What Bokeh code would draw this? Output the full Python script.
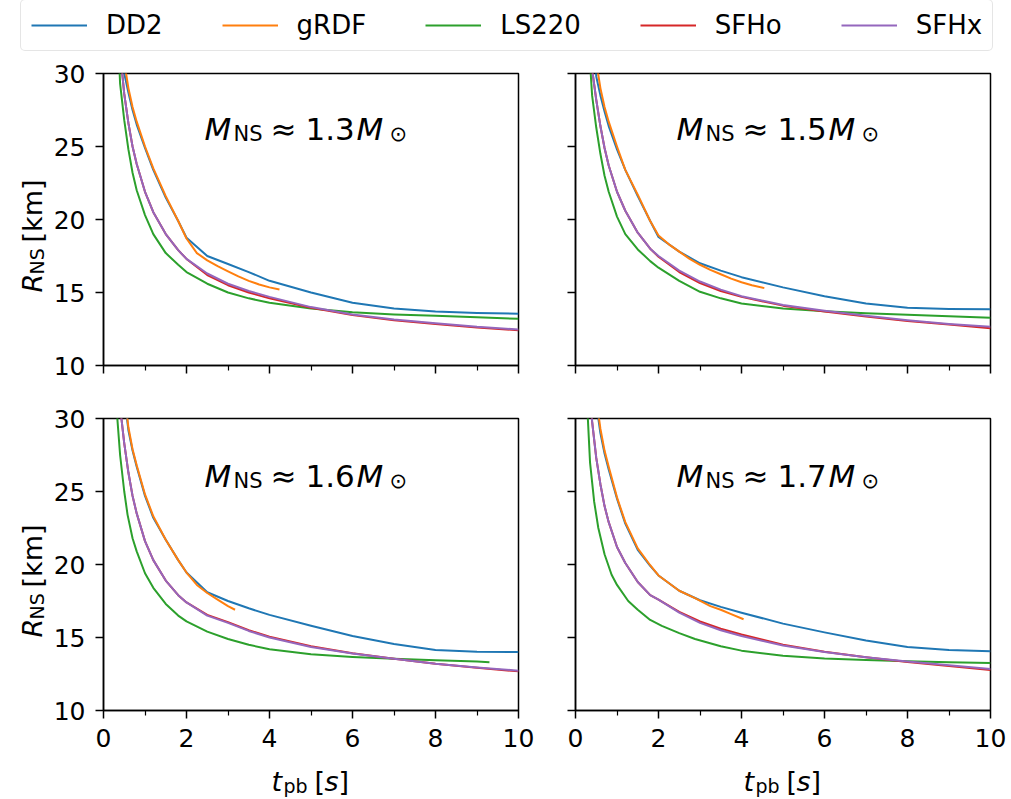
import math
from bokeh.plotting import figure
from bokeh.models import (FixedTicker, Label, Legend, LegendItem, Range1d,
                          CustomJSTickFormatter)
from bokeh.core.properties import value
from bokeh.layouts import column, row
from bokeh.embed import file_html
from bokeh.resources import INLINE

# ---------------- data ----------------
MODELS = ["DD2", "gRDF", "LS220", "SFHo", "SFHx"]
COLORS = ["#1f77b4", "#ff7f0e", "#2ca02c", "#d62728", "#9467bd"]
MASS_LABELS = ["1.3", "1.5", "1.6", "1.7"]

X_TICKS = [0, 2, 4, 6, 8, 10]
X_MINOR = [1, 3, 5, 7, 9]
Y_TICKS = [10, 15, 20, 25, 30]

T = [0.3, 0.4, 0.5, 0.6, 0.7, 0.8, 1.0, 1.2, 1.5, 1.8, 2.0, 2.5, 3.0, 3.5,
     4.0, 5.0, 6.0, 7.0, 8.0, 9.0, 10.0]

# M_NS ~ 1.3
DD2_13 = [40, 34, 30.0, 28.7, 27.5, 26.5, 24.9, 23.4, 21.5, 19.9, 18.75, 17.5,
          16.95, 16.4, 15.8, 15.0, 14.3, 13.9, 13.7, 13.6, 13.55]
T_GRDF_13 = [0.3, 0.4, 0.5, 0.6, 0.7, 0.8, 1.0, 1.2, 1.5, 1.8, 2.0, 2.25, 2.5,
             2.75, 3.0, 3.25, 3.5, 3.75, 4.0, 4.24]
GRDF_13 = [42, 36, 30.8, 29.0, 27.7, 26.7, 25.0, 23.5, 21.6, 19.9, 18.7, 17.7,
           17.2, 16.8, 16.45, 16.1, 15.8, 15.55, 15.35, 15.2]
LS220_13 = [36, 29.3, 26.8, 24.8, 23.2, 22.0, 20.3, 19.0, 17.7, 16.9, 16.4,
            15.6, 15.0, 14.6, 14.3, 13.9, 13.65, 13.5, 13.4, 13.3, 13.2]
SFHO_13 = [38, 31.5, 28.6, 26.6, 25.0, 23.8, 21.9, 20.5, 19.0, 17.9, 17.3,
           16.2, 15.5, 15.0, 14.6, 13.95, 13.45, 13.1, 12.85, 12.6, 12.42]
SFHX_13 = [38, 31.5, 28.6, 26.6, 25.0, 23.8, 21.9, 20.5, 19.0, 17.9, 17.3,
           16.3, 15.6, 15.1, 14.7, 14.0, 13.5, 13.15, 12.9, 12.65, 12.47]

# M_NS ~ 1.5
DD2_15 = [40, 34, 29.8, 28.5, 27.4, 26.4, 24.8, 23.4, 21.6, 19.9, 18.8, 17.8,
          17.0, 16.5, 16.05, 15.35, 14.75, 14.25, 13.95, 13.87, 13.85]
T_GRDF_15 = [0.3, 0.4, 0.5, 0.6, 0.7, 0.8, 1.0, 1.2, 1.5, 1.8, 2.0, 2.25, 2.5,
             2.75, 3.0, 3.25, 3.5, 3.75, 4.0, 4.25, 4.55]
GRDF_15 = [42, 36, 30.8, 29.0, 27.7, 26.7, 25.0, 23.4, 21.7, 19.9, 18.9, 18.3,
           17.8, 17.3, 16.9, 16.55, 16.25, 15.95, 15.7, 15.5, 15.3]
LS220_15 = [33, 28.5, 26.3, 24.5, 23.0, 21.9, 20.2, 19.0, 17.95, 17.15, 16.7,
            15.8, 15.05, 14.6, 14.25, 13.9, 13.72, 13.58, 13.48, 13.38, 13.27]
SFHO_15 = [36, 30.3, 28.2, 26.4, 24.9, 23.7, 21.9, 20.6, 19.1, 18.0, 17.45,
           16.4, 15.65, 15.1, 14.7, 14.1, 13.7, 13.35, 13.05, 12.8, 12.55]
SFHX_15 = [36, 30.3, 28.2, 26.4, 24.9, 23.7, 21.9, 20.6, 19.1, 18.0, 17.5,
           16.5, 15.75, 15.2, 14.75, 14.15, 13.75, 13.4, 13.1, 12.85, 12.65]

# M_NS ~ 1.6
DD2_16 = [42, 36, 31.5, 29.2, 27.8, 26.7, 24.7, 23.2, 21.7, 20.3, 19.45, 18.1,
          17.5, 17.0, 16.55, 15.8, 15.1, 14.55, 14.15, 14.02, 14.0]
T_GRDF_16 = [0.3, 0.4, 0.5, 0.6, 0.7, 0.8, 1.0, 1.2, 1.5, 1.8, 2.0, 2.25, 2.5,
             2.75, 3.0, 3.17]
GRDF_16 = [43, 36.5, 31.8, 29.4, 27.9, 26.8, 24.8, 23.3, 21.7, 20.3, 19.45,
           18.6, 18.05, 17.6, 17.15, 16.9]
T_LS220_16 = [0.28, 0.4, 0.5, 0.58, 0.7, 0.8, 1.0, 1.2, 1.5, 1.8, 2.0, 2.5,
              3.0, 3.5, 4.0, 5.0, 6.0, 7.0, 8.0, 9.0, 9.3]
LS220_16 = [32, 27.5, 25.0, 23.4, 21.8, 20.9, 19.4, 18.4, 17.3, 16.5, 16.1,
            15.4, 14.9, 14.5, 14.2, 13.85, 13.67, 13.55, 13.45, 13.35, 13.3]
SFHO_16 = [36, 30.8, 28.3, 26.3, 24.7, 23.5, 21.6, 20.3, 18.9, 17.9, 17.4,
           16.55, 16.05, 15.5, 15.05, 14.4, 13.92, 13.55, 13.2, 12.92, 12.68]
SFHX_16 = [36, 30.8, 28.3, 26.3, 24.7, 23.5, 21.6, 20.3, 18.9, 17.9, 17.4,
           16.5, 16.0, 15.45, 15.0, 14.35, 13.9, 13.55, 13.2, 12.95, 12.73]

# M_NS ~ 1.7
DD2_17 = [42, 35, 31.0, 29.0, 27.6, 26.5, 24.5, 22.8, 21.0, 19.9, 19.25, 18.2,
          17.55, 17.1, 16.7, 15.95, 15.35, 14.8, 14.35, 14.15, 14.05]
T_GRDF_17 = [0.3, 0.4, 0.5, 0.6, 0.7, 0.8, 1.0, 1.2, 1.5, 1.8, 2.0, 2.5, 2.88,
             3.25, 3.5, 3.75, 4.05]
GRDF_17 = [43, 36, 31.4, 29.3, 27.8, 26.7, 24.6, 22.9, 21.1, 19.95, 19.25, 18.2,
           17.7, 17.15, 16.9, 16.6, 16.25]
T_LS220_17 = [0.28, 0.35, 0.45, 0.55, 0.7, 0.87, 1.0, 1.27, 1.5, 1.8, 2.08,
              2.5, 2.88, 3.5, 4.0, 5.0, 6.0, 7.0, 8.0, 9.0, 10.0]
LS220_17 = [31, 27.0, 24.3, 22.5, 20.7, 19.3, 18.6, 17.5, 16.9, 16.2, 15.8,
            15.3, 14.9, 14.4, 14.1, 13.75, 13.57, 13.46, 13.38, 13.3, 13.25]
SFHO_17 = [35, 29.8, 27.3, 25.5, 24.0, 22.9, 21.2, 20.1, 18.8, 17.9, 17.6,
           16.75, 16.1, 15.6, 15.2, 14.5, 14.02, 13.65, 13.33, 13.05, 12.78]
SFHX_17 = [35, 29.8, 27.3, 25.5, 24.0, 22.9, 21.2, 20.1, 18.8, 17.9, 17.6,
           16.7, 16.0, 15.5, 15.1, 14.45, 14.0, 13.65, 13.35, 13.1, 12.85]

PANELS = [
    [(T, DD2_13), (T_GRDF_13, GRDF_13), (T, LS220_13), (T, SFHO_13), (T, SFHX_13)],
    [(T, DD2_15), (T_GRDF_15, GRDF_15), (T, LS220_15), (T, SFHO_15), (T, SFHX_15)],
    [(T, DD2_16), (T_GRDF_16, GRDF_16), (T_LS220_16, LS220_16), (T, SFHO_16), (T, SFHX_16)],
    [(T, DD2_17), (T_GRDF_17, GRDF_17), (T_LS220_17, LS220_17), (T, SFHO_17), (T, SFHX_17)],
]

FONT = "DejaVu Sans"
FW, FH = 415, 292          # frame size of each panel
STRIP_W = 50               # width of the y-label strip
LEG_H = 58                 # height of the legend strip
XLAB_H = 39                # height of the x-label strip


def add_label(p, text, x, y, size, style="normal"):
    p.add_layout(Label(x=x, y=y, x_units="screen", y_units="screen", text=text,
                       text_font=FONT, text_font_size=f"{size}px",
                       text_font_style=style, text_color="black",
                       text_align="left", text_baseline="alphabetic"))


def blank_fig(w, h):
    f = figure(frame_width=w, frame_height=h, x_range=Range1d(0, w),
               y_range=Range1d(0, h), output_backend="svg",
               toolbar_location=None, x_axis_location=None,
               y_axis_location=None, min_border=0, min_border_left=0,
               min_border_right=0, min_border_top=0, min_border_bottom=0,
               outline_line_color=None, background_fill_color="white",
               border_fill_color="white")
    f.xgrid.visible = False
    f.ygrid.visible = False
    return f


def put_text(f, text, x, y, size, style="normal", angle=0.0):
    f.text(x=[x], y=[y], text=[text], text_font=value(FONT),
           text_font_size=value(f"{size}px"), text_font_style=style,
           text_color="black", angle=angle, text_align="left",
           text_baseline="alphabetic")


def make_panel(k, show_xlabels, show_ylabels):
    left = 52 if show_ylabels else 20
    right = 37 if show_ylabels else 22
    top = 15
    bottom = 50 if show_xlabels else 38
    p = figure(frame_width=FW, frame_height=FH,
               x_range=Range1d(0, 10), y_range=Range1d(10, 30),
               output_backend="svg", toolbar_location=None,
               min_border_left=left, min_border_right=right,
               min_border_top=top, min_border_bottom=bottom,
               background_fill_color="white", border_fill_color="white")
    p.xgrid.visible = False
    p.ygrid.visible = False
    p.outline_line_color = "black"
    p.outline_line_width = 1.5

    for (t, r), c in zip(PANELS[k], COLORS):
        p.line(t, r, line_color=c, line_width=2, line_join="round")

    for ax in (p.xaxis[0], p.yaxis[0]):
        ax.axis_line_color = "black"
        ax.axis_line_width = 1.5
        ax.major_tick_line_color = "black"
        ax.major_tick_line_width = 1.5
        ax.minor_tick_line_color = "black"
        ax.minor_tick_line_width = 1.2
        ax.major_tick_in = 0
        ax.major_tick_out = 8
        ax.minor_tick_in = 0
        ax.minor_tick_out = 5
        ax.major_label_text_font = FONT
        ax.major_label_text_color = "black"
        ax.major_label_standoff = 10
        ax.major_label_text_font_size = "25px"
    p.xaxis[0].ticker = FixedTicker(ticks=X_TICKS, minor_ticks=X_MINOR)
    p.yaxis[0].ticker = FixedTicker(ticks=Y_TICKS, minor_ticks=[])

    if not show_xlabels:
        p.xaxis[0].formatter = CustomJSTickFormatter(code="return ''")
        p.xaxis[0].major_label_text_font_size = "1px"
        p.xaxis[0].major_label_standoff = 0
    if not show_ylabels:
        p.yaxis[0].formatter = CustomJSTickFormatter(code="return ''")
        p.yaxis[0].major_label_text_font_size = "1px"
        p.yaxis[0].major_label_standoff = 0

    # panel annotation  M_NS ≈ x.x M_sun
    x0 = 101
    yb = FH - (55 if k < 2 else 57)
    add_label(p, "M", x0, yb, 31, "italic")
    add_label(p, "NS", x0 + 29, yb - 5, 21)
    add_label(p, "\u2248", x0 + 66, yb, 31)
    add_label(p, MASS_LABELS[k], x0 + 101, yb, 31)
    add_label(p, "M", x0 + 152, yb, 31, "italic")
    add_label(p, "\u2299", x0 + 185, yb - 5, 21)
    return p


def ylabel_strip(h, frame_bottom):
    f = blank_fig(STRIP_W, h)
    a = math.pi / 2
    put_text(f, "R", 32, frame_bottom + 88, 27, "italic", a)
    put_text(f, "NS", 36, frame_bottom + 106, 19, "normal", a)
    put_text(f, "[km]", 32, frame_bottom + 138, 27, "normal", a)
    return f


p1 = make_panel(0, False, True)
p2 = make_panel(1, False, False)
p3 = make_panel(2, True, True)
p4 = make_panel(3, True, False)

ys1 = ylabel_strip(15 + FH + 38, 38)
ys2 = ylabel_strip(15 + FH + 50, 50)

# x-label strip
xs = blank_fig(1011, XLAB_H)
for fl in (STRIP_W + 52, STRIP_W + 52 + FW + 37 + 20):
    put_text(xs, "t", fl + 169, 18, 27, "italic")
    put_text(xs, "pb", fl + 181, 14, 19)
    put_text(xs, "[", fl + 212, 18, 27)
    put_text(xs, "s", fl + 222, 18, 27, "italic")
    put_text(xs, "]", fl + 236, 18, 27)

# legend strip on top
lf = blank_fig(1011, LEG_H)
items = []
for name, c in zip(MODELS, COLORS):
    r = lf.line(x=[-20, -10], y=[-20, -20], line_color=c, line_width=2)
    items.append(LegendItem(label=name, renderers=[r]))
legend = Legend(items=items, orientation="horizontal", location=(20, 7),
                glyph_width=56, glyph_height=20, label_standoff=19,
                spacing=59, padding=10, margin=0,
                label_text_font=FONT, label_text_font_size="26px",
                label_text_color="black",
                border_line_color="#cccccc", border_line_width=1.5,
                background_fill_color="white", background_fill_alpha=1.0)
try:
    legend.border_radius = 5
except Exception:
    pass
lf.add_layout(legend)

layout = column(lf, row(ys1, p1, p2), row(ys2, p3, p4), xs)
open("out.html", "w").write(file_html(layout, INLINE, title="R_NS vs t_pb"))
